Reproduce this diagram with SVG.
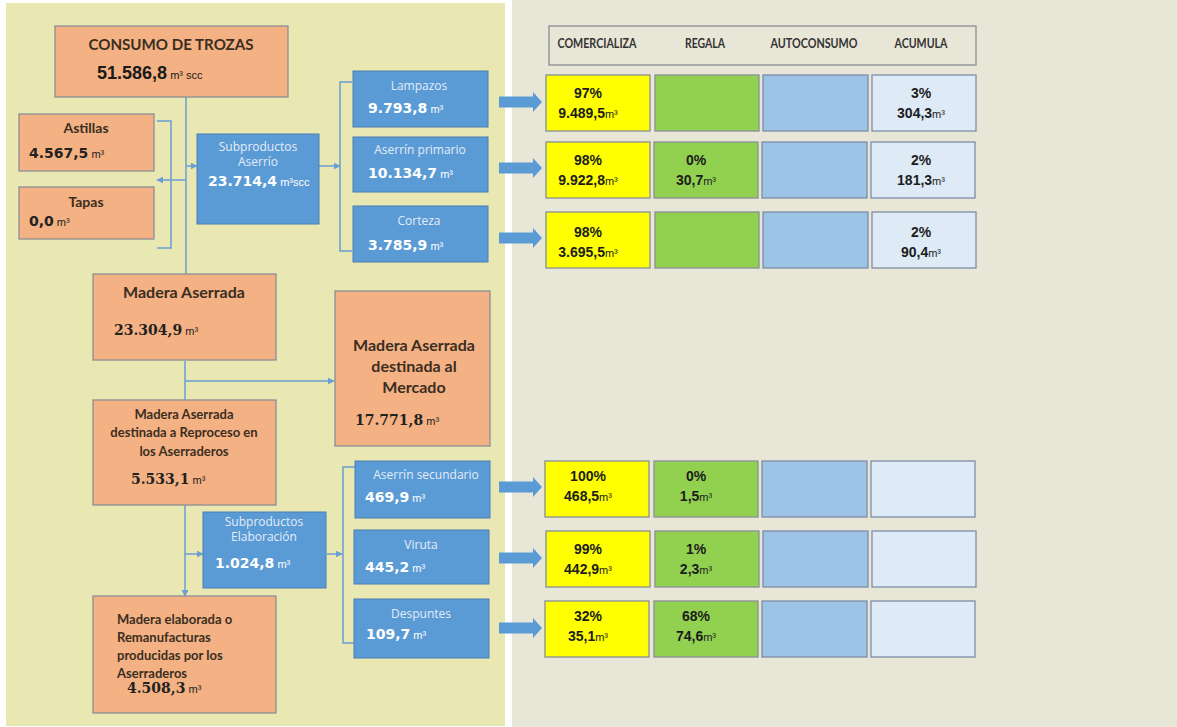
<svg xmlns="http://www.w3.org/2000/svg" width="1177" height="727" viewBox="0 0 1177 727">
<style>
.sal{fill:#f4b183;stroke:#8a8f96;stroke-width:1.3}
.blu{fill:#5b9bd5;stroke:#4a7fb0;stroke-width:1}
.c1{fill:#ffff00;stroke:#8a8f96;stroke-width:1.3}
.c2{fill:#92d050;stroke:#8a8f96;stroke-width:1.3}
.c3{fill:#9dc3e6;stroke:#7d8ea6;stroke-width:1.3}
.c4{fill:#deebf7;stroke:#7d8ea6;stroke-width:1.3}
.ln{fill:none;stroke:#6a9fd4;stroke-width:1.5}
.ttl{font-family:Lato,"Liberation Sans",sans-serif;font-weight:bold;fill:#3a2e22}
.lbl{font-family:"Open Sans","Liberation Sans",sans-serif;fill:#e3ecf8;font-size:12px}
.vw{font-family:"DejaVu Sans",Verdana,sans-serif;font-weight:bold;fill:#ffffff;font-size:14px}
.vd{font-family:"DejaVu Sans",Verdana,sans-serif;font-weight:bold;fill:#222;font-size:14px}
.vs{font-family:"DejaVu Serif",serif;font-weight:bold;fill:#222;font-size:14px}
.u{font-family:"Liberation Sans",Arial,sans-serif;font-weight:normal;font-size:11px}
.cell{font-family:"Liberation Sans",Arial,sans-serif;font-weight:bold;fill:#1c1c1c;font-size:14px;text-anchor:middle}
.hd{font-family:Lato,"Liberation Sans",sans-serif;font-weight:bold;fill:#333;font-size:13px;text-anchor:middle}
</style>
<defs>
<marker id="ah" viewBox="0 0 10 10" refX="9" refY="5" markerWidth="7" markerHeight="7" markerUnits="userSpaceOnUse" orient="auto">
<path d="M0,0 L10,5 L0,10 z" fill="#6a9fd4"/>
</marker>
<path id="barrow" d="M0,-5.5 H34 V-10 L43,0 L34,10 V5.5 H0 z" fill="#5b9bd5"/>
</defs>
<rect x="0" y="0" width="1177" height="727" fill="#ffffff"/>
<rect x="6" y="3" width="499" height="723" fill="#e9e7b2"/>
<rect x="512" y="0" width="665" height="727" fill="#e8e6d6"/>

<g id="connectors">
<path class="ln" d="M186,97 V274"/>
<path class="ln" d="M157,121 H171 V248 H157"/>
<path class="ln" d="M186,180 H157" marker-end="url(#ah)"/>
<path class="ln" d="M186,166 H197" marker-end="url(#ah)"/>
<path class="ln" d="M319,166 H340" marker-end="url(#ah)"/>
<path class="ln" d="M352,82 H340 V251 H352"/>
<path class="ln" d="M185,361 V400"/>
<path class="ln" d="M185,381 H334" marker-end="url(#ah)"/>
<path class="ln" d="M185,505 V596" marker-end="url(#ah)"/>
<path class="ln" d="M185,554 H203" marker-end="url(#ah)"/>
<path class="ln" d="M327,554 H342" marker-end="url(#ah)"/>
<path class="ln" d="M355,467 H343 V643 H354"/>
<use href="#barrow" x="499" y="102"/>
<use href="#barrow" x="499" y="168"/>
<use href="#barrow" x="499" y="238"/>
<use href="#barrow" x="499" y="487"/>
<use href="#barrow" x="499" y="558"/>
<use href="#barrow" x="499" y="628"/>
</g>

<g id="consumo">
<rect class="sal" x="55" y="26" width="233" height="71"/>
<text class="ttl" x="171" y="50" font-size="16" text-anchor="middle" textLength="165" lengthAdjust="spacingAndGlyphs">CONSUMO DE TROZAS</text>
<text x="97" y="79" font-family="Liberation Sans,Arial,sans-serif" font-weight="bold" font-size="18" fill="#1a1a1a">51.586,8<tspan class="u" font-size="11"> m³ scc</tspan></text>
</g>
<g id="astillas">
<rect class="sal" x="19" y="114" width="135" height="57"/>
<text class="ttl" x="86" y="133" font-size="14" text-anchor="middle">Astillas</text>
<text class="vd" x="29" y="158">4.567,5<tspan class="u"> m³</tspan></text>
</g>
<g id="tapas">
<rect class="sal" x="19" y="187" width="135" height="52"/>
<text class="ttl" x="86" y="207" font-size="14" text-anchor="middle">Tapas</text>
<text class="vd" x="29" y="226">0,0<tspan class="u"> m³</tspan></text>
</g>
<g id="sub-aserrio">
<rect class="blu" x="197" y="134" width="122" height="90"/>
<text class="lbl" x="258" y="151" text-anchor="middle" font-size="13">Subproductos</text>
<text class="lbl" x="258" y="166" text-anchor="middle" font-size="13">Aserrío</text>
<text class="vw" x="208" y="186">23.714,4<tspan class="u"> m³scc</tspan></text>
</g>
<g id="lampazos">
<rect class="blu" x="353" y="71" width="135" height="56"/>
<text class="lbl" x="419" y="90" text-anchor="middle">Lampazos</text>
<text class="vw" x="368" y="113">9.793,8<tspan class="u"> m³</tspan></text>
</g>
<g id="aserrin-primario">
<rect class="blu" x="353" y="137" width="135" height="55"/>
<text class="lbl" x="420" y="154" text-anchor="middle">Aserrín primario</text>
<text class="vw" x="368" y="178">10.134,7<tspan class="u"> m³</tspan></text>
</g>
<g id="corteza">
<rect class="blu" x="353" y="206" width="135" height="56"/>
<text class="lbl" x="419" y="225" text-anchor="middle">Corteza</text>
<text class="vw" x="368" y="250">3.785,9<tspan class="u"> m³</tspan></text>
</g>
<g id="madera-aserrada">
<rect class="sal" x="93" y="274" width="183" height="86"/>
<text class="ttl" x="184" y="298" font-size="16" text-anchor="middle">Madera Aserrada</text>
<text class="vs" x="114" y="335">23.304,9<tspan class="u"> m³</tspan></text>
</g>
<g id="mercado">
<rect class="sal" x="335" y="291" width="155" height="155"/>
<text class="ttl" x="414" y="351" font-size="16" text-anchor="middle">Madera Aserrada</text>
<text class="ttl" x="414" y="372" font-size="16" text-anchor="middle">destinada al</text>
<text class="ttl" x="414" y="393" font-size="16" text-anchor="middle">Mercado</text>
<text class="vs" x="355" y="425">17.771,8<tspan class="u"> m³</tspan></text>
</g>
<g id="reproceso">
<rect class="sal" x="93" y="400" width="183" height="105"/>
<text class="ttl" x="184" y="419" font-size="13" text-anchor="middle">Madera Aserrada</text>
<text class="ttl" x="184" y="437" font-size="13" text-anchor="middle">destinada a Reproceso en</text>
<text class="ttl" x="184" y="456" font-size="13" text-anchor="middle">los Aserraderos</text>
<text class="vs" x="131" y="484">5.533,1<tspan class="u"> m³</tspan></text>
</g>
<g id="sub-elaboracion">
<rect class="blu" x="203" y="512" width="123" height="76"/>
<text class="lbl" x="264" y="526" text-anchor="middle" font-size="13">Subproductos</text>
<text class="lbl" x="264" y="541" text-anchor="middle" font-size="13">Elaboración</text>
<text class="vw" x="215" y="568">1.024,8<tspan class="u"> m³</tspan></text>
</g>
<g id="aserrin-secundario">
<rect class="blu" x="355" y="461" width="135" height="57"/>
<text class="lbl" x="426" y="479" text-anchor="middle">Aserrín secundario</text>
<text class="vw" x="365" y="502">469,9<tspan class="u"> m³</tspan></text>
</g>
<g id="viruta">
<rect class="blu" x="354" y="530" width="135" height="54"/>
<text class="lbl" x="421" y="549" text-anchor="middle">Viruta</text>
<text class="vw" x="365" y="572">445,2<tspan class="u"> m³</tspan></text>
</g>
<g id="despuntes">
<rect class="blu" x="354" y="599" width="135" height="59"/>
<text class="lbl" x="421" y="618" text-anchor="middle">Despuntes</text>
<text class="vw" x="366" y="639">109,7<tspan class="u"> m³</tspan></text>
</g>
<g id="madera-elaborada">
<rect class="sal" x="93" y="596" width="183" height="117"/>
<text class="ttl" x="117" y="624" font-size="13">Madera elaborada o</text>
<text class="ttl" x="117" y="642" font-size="13">Remanufacturas</text>
<text class="ttl" x="117" y="660" font-size="13">producidas por los</text>
<text class="ttl" x="117" y="678" font-size="13">Aserraderos</text>
<text class="vs" x="127" y="693">4.508,3<tspan class="u"> m³</tspan></text>
</g>

<g id="header">
<rect x="549" y="26" width="427" height="39" fill="#e8e6d6" stroke="#8a8f96" stroke-width="1.3"/>
<text class="hd" x="597" y="48" textLength="79" lengthAdjust="spacingAndGlyphs">COMERCIALIZA</text>
<text class="hd" x="705" y="48" textLength="40" lengthAdjust="spacingAndGlyphs">REGALA</text>
<text class="hd" x="814" y="48" textLength="87" lengthAdjust="spacingAndGlyphs">AUTOCONSUMO</text>
<text class="hd" x="921" y="48" textLength="53" lengthAdjust="spacingAndGlyphs">ACUMULA</text>
</g>

<g id="row-lampazos">
<rect class="c1" x="546" y="75" width="104" height="56"/>
<rect class="c2" x="655" y="75" width="104" height="56"/>
<rect class="c3" x="763" y="75" width="105" height="56"/>
<rect class="c4" x="872" y="75" width="104" height="56"/>
<text class="cell" x="588" y="98">97%</text>
<text class="cell" x="588" y="118">9.489,5<tspan class="u">m³</tspan></text>
<text class="cell" x="921" y="98">3%</text>
<text class="cell" x="921" y="118">304,3<tspan class="u">m³</tspan></text>
</g>
<g id="row-aserrin-primario">
<rect class="c1" x="546" y="142" width="104" height="56"/>
<rect class="c2" x="654" y="142" width="104" height="56"/>
<rect class="c3" x="762" y="142" width="105" height="56"/>
<rect class="c4" x="871" y="142" width="104" height="56"/>
<text class="cell" x="588" y="165">98%</text>
<text class="cell" x="588" y="185">9.922,8<tspan class="u">m³</tspan></text>
<text class="cell" x="696" y="165">0%</text>
<text class="cell" x="696" y="185">30,7<tspan class="u">m³</tspan></text>
<text class="cell" x="921" y="165">2%</text>
<text class="cell" x="921" y="185">181,3<tspan class="u">m³</tspan></text>
</g>
<g id="row-corteza">
<rect class="c1" x="546" y="212" width="104" height="56"/>
<rect class="c2" x="655" y="212" width="104" height="56"/>
<rect class="c3" x="763" y="212" width="105" height="56"/>
<rect class="c4" x="872" y="212" width="104" height="56"/>
<text class="cell" x="588" y="237">98%</text>
<text class="cell" x="588" y="257">3.695,5<tspan class="u">m³</tspan></text>
<text class="cell" x="921" y="237">2%</text>
<text class="cell" x="921" y="257">90,4<tspan class="u">m³</tspan></text>
</g>
<g id="row-aserrin-secundario">
<rect class="c1" x="545" y="461" width="104" height="56"/>
<rect class="c2" x="654" y="461" width="104" height="56"/>
<rect class="c3" x="762" y="461" width="105" height="56"/>
<rect class="c4" x="871" y="461" width="104" height="56"/>
<text class="cell" x="588" y="481">100%</text>
<text class="cell" x="588" y="501">468,5<tspan class="u">m³</tspan></text>
<text class="cell" x="696" y="481">0%</text>
<text class="cell" x="696" y="501">1,5<tspan class="u">m³</tspan></text>
</g>
<g id="row-viruta">
<rect class="c1" x="546" y="531" width="104" height="56"/>
<rect class="c2" x="655" y="531" width="104" height="56"/>
<rect class="c3" x="763" y="531" width="105" height="56"/>
<rect class="c4" x="872" y="531" width="104" height="56"/>
<text class="cell" x="588" y="554">99%</text>
<text class="cell" x="588" y="574">442,9<tspan class="u">m³</tspan></text>
<text class="cell" x="696" y="554">1%</text>
<text class="cell" x="696" y="574">2,3<tspan class="u">m³</tspan></text>
</g>
<g id="row-despuntes">
<rect class="c1" x="545" y="601" width="104" height="56"/>
<rect class="c2" x="654" y="601" width="104" height="56"/>
<rect class="c3" x="762" y="601" width="105" height="56"/>
<rect class="c4" x="871" y="601" width="104" height="56"/>
<text class="cell" x="588" y="621">32%</text>
<text class="cell" x="588" y="641">35,1<tspan class="u">m³</tspan></text>
<text class="cell" x="696" y="621">68%</text>
<text class="cell" x="696" y="641">74,6<tspan class="u">m³</tspan></text>
</g>
</svg>
